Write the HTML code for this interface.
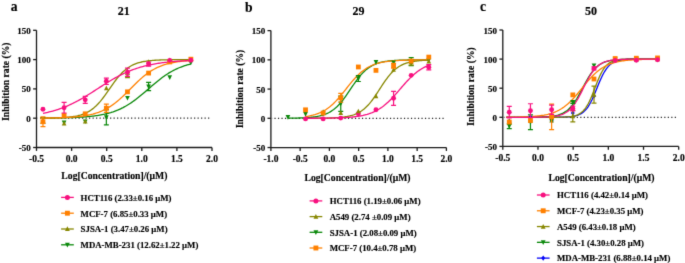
<!DOCTYPE html>
<html><head><meta charset="utf-8"><style>
html,body{margin:0;padding:0;background:#fff;}
svg{display:block;will-change:transform;}
text{font-family:"Liberation Serif", serif;font-weight:bold;fill:#000;stroke:#000;stroke-width:0.15px;}
</style></head><body>
<svg width="685" height="263" viewBox="0 0 685 263">
<defs><filter id="soft" x="0" y="0" width="685" height="263" filterUnits="userSpaceOnUse" color-interpolation-filters="sRGB"><feConvolveMatrix order="3" kernelMatrix="0.0113 0.0838 0.0113 0.0838 0.6193 0.0838 0.0113 0.0838 0.0113" edgeMode="duplicate"/></filter></defs>
<g filter="url(#soft)">
<rect width="685" height="263" fill="#fff"/>
<line x1="209.25" y1="118.20" x2="37.50" y2="118.20" stroke="#222" stroke-width="1.25" stroke-dasharray="1.2 2.3"/>
<polyline points="42.96,118.09 44.19,118.08 45.42,118.07 46.66,118.06 47.89,118.05 49.12,118.04 50.35,118.03 51.59,118.01 52.82,118.00 54.05,117.99 55.28,117.97 56.52,117.95 57.75,117.93 58.98,117.91 60.21,117.89 61.45,117.87 62.68,117.84 63.91,117.82 65.15,117.79 66.38,117.76 67.61,117.72 68.84,117.69 70.08,117.65 71.31,117.61 72.54,117.56 73.77,117.51 75.01,117.46 76.24,117.41 77.47,117.35 78.70,117.28 79.94,117.21 81.17,117.14 82.40,117.06 83.63,116.98 84.87,116.89 86.10,116.79 87.33,116.69 88.56,116.57 89.80,116.45 91.03,116.33 92.26,116.19 93.49,116.04 94.73,115.88 95.96,115.72 97.19,115.54 98.43,115.34 99.66,115.14 100.89,114.92 102.12,114.68 103.36,114.43 104.59,114.17 105.82,113.88 107.05,113.58 108.29,113.26 109.52,112.92 110.75,112.56 111.98,112.17 113.22,111.77 114.45,111.34 115.68,110.88 116.91,110.40 118.15,109.89 119.38,109.35 120.61,108.79 121.84,108.20 123.08,107.58 124.31,106.92 125.54,106.24 126.77,105.53 128.01,104.79 129.24,104.02 130.47,103.22 131.71,102.39 132.94,101.53 134.17,100.64 135.40,99.73 136.64,98.79 137.87,97.83 139.10,96.84 140.33,95.84 141.57,94.82 142.80,93.79 144.03,92.74 145.26,91.68 146.50,90.61 147.73,89.54 148.96,88.47 150.19,87.40 151.43,86.33 152.66,85.27 153.89,84.22 155.12,83.19 156.36,82.16 157.59,81.16 158.82,80.17 160.05,79.20 161.29,78.26 162.52,77.34 163.75,76.45 164.99,75.59 166.22,74.75 167.45,73.94 168.68,73.16 169.92,72.42 171.15,71.70 172.38,71.01 173.61,70.35 174.85,69.73 176.08,69.13 177.31,68.56 178.54,68.02 179.78,67.50 181.01,67.02 182.24,66.55 183.47,66.12 184.71,65.71 185.94,65.32 187.17,64.95 188.40,64.61 189.64,64.28 190.87,63.97" fill="none" stroke="#0A880A" stroke-width="1.3"/>
<polyline points="42.96,118.12 44.19,118.11 45.42,118.09 46.66,118.08 47.89,118.06 49.12,118.05 50.35,118.03 51.59,118.00 52.82,117.98 54.05,117.95 55.28,117.92 56.52,117.88 57.75,117.84 58.98,117.80 60.21,117.75 61.45,117.69 62.68,117.62 63.91,117.55 65.15,117.46 66.38,117.37 67.61,117.27 68.84,117.15 70.08,117.01 71.31,116.87 72.54,116.70 73.77,116.51 75.01,116.30 76.24,116.06 77.47,115.80 78.70,115.50 79.94,115.17 81.17,114.80 82.40,114.40 83.63,113.94 84.87,113.44 86.10,112.88 87.33,112.26 88.56,111.58 89.80,110.83 91.03,110.02 92.26,109.13 93.49,108.16 94.73,107.11 95.96,105.97 97.19,104.76 98.43,103.46 99.66,102.08 100.89,100.63 102.12,99.10 103.36,97.51 104.59,95.86 105.82,94.16 107.05,92.42 108.29,90.66 109.52,88.88 110.75,87.11 111.98,85.35 113.22,83.61 114.45,81.91 115.68,80.26 116.91,78.67 118.15,77.15 119.38,75.69 120.61,74.32 121.84,73.02 123.08,71.81 124.31,70.68 125.54,69.63 126.77,68.66 128.01,67.77 129.24,66.95 130.47,66.21 131.71,65.53 132.94,64.91 134.17,64.36 135.40,63.85 136.64,63.40 137.87,62.99 139.10,62.62 140.33,62.29 141.57,62.00 142.80,61.73 144.03,61.50 145.26,61.29 146.50,61.10 147.73,60.93 148.96,60.78 150.19,60.65 151.43,60.53 152.66,60.43 153.89,60.33 155.12,60.25 156.36,60.18 157.59,60.11 158.82,60.05 160.05,60.00 161.29,59.96 162.52,59.92 163.75,59.88 164.99,59.85 166.22,59.82 167.45,59.80 168.68,59.77 169.92,59.75 171.15,59.74 172.38,59.72 173.61,59.71 174.85,59.69 176.08,59.68 177.31,59.67 178.54,59.67 179.78,59.66 181.01,59.65 182.24,59.65 183.47,59.64 184.71,59.64 185.94,59.63 187.17,59.63 188.40,59.62 189.64,59.62 190.87,59.62" fill="none" stroke="#878700" stroke-width="1.3"/>
<polyline points="40.01,118.08 41.27,118.07 42.52,118.06 43.78,118.05 45.04,118.04 46.30,118.02 47.55,118.01 48.81,117.99 50.07,117.97 51.32,117.95 52.58,117.93 53.84,117.90 55.10,117.87 56.35,117.84 57.61,117.81 58.87,117.78 60.12,117.74 61.38,117.70 62.64,117.65 63.90,117.60 65.15,117.55 66.41,117.49 67.67,117.43 68.92,117.36 70.18,117.29 71.44,117.20 72.70,117.12 73.95,117.02 75.21,116.92 76.47,116.80 77.72,116.68 78.98,116.55 80.24,116.40 81.50,116.24 82.75,116.07 84.01,115.89 85.27,115.69 86.53,115.47 87.78,115.24 89.04,114.98 90.30,114.71 91.55,114.41 92.81,114.10 94.07,113.75 95.33,113.38 96.58,112.99 97.84,112.56 99.10,112.10 100.35,111.61 101.61,111.09 102.87,110.53 104.13,109.94 105.38,109.30 106.64,108.63 107.90,107.92 109.15,107.16 110.41,106.36 111.67,105.52 112.93,104.64 114.18,103.72 115.44,102.76 116.70,101.75 117.95,100.71 119.21,99.63 120.47,98.51 121.73,97.36 122.98,96.19 124.24,94.98 125.50,93.76 126.75,92.52 128.01,91.26 129.27,90.00 130.53,88.73 131.78,87.46 133.04,86.20 134.30,84.95 135.55,83.71 136.81,82.49 138.07,81.30 139.33,80.13 140.58,78.99 141.84,77.88 143.10,76.81 144.35,75.78 145.61,74.78 146.87,73.83 148.13,72.92 149.38,72.05 150.64,71.22 151.90,70.43 153.15,69.69 154.41,68.99 155.67,68.32 156.93,67.70 158.18,67.11 159.44,66.57 160.70,66.05 161.96,65.57 163.21,65.12 164.47,64.70 165.73,64.31 166.98,63.95 168.24,63.62 169.50,63.30 170.76,63.01 172.01,62.75 173.27,62.50 174.53,62.27 175.78,62.06 177.04,61.86 178.30,61.68 179.56,61.51 180.81,61.36 182.07,61.22 183.33,61.09 184.58,60.97 185.84,60.86 187.10,60.75 188.36,60.66 189.61,60.57 190.87,60.49" fill="none" stroke="#FF8000" stroke-width="1.3"/>
<polyline points="42.96,113.33 44.19,113.09 45.42,112.83 46.66,112.56 47.89,112.27 49.12,111.97 50.35,111.67 51.59,111.34 52.82,111.01 54.05,110.66 55.28,110.29 56.52,109.91 57.75,109.52 58.98,109.11 60.21,108.68 61.45,108.24 62.68,107.78 63.91,107.31 65.15,106.81 66.38,106.31 67.61,105.78 68.84,105.24 70.08,104.68 71.31,104.11 72.54,103.52 73.77,102.91 75.01,102.29 76.24,101.65 77.47,101.00 78.70,100.33 79.94,99.65 81.17,98.95 82.40,98.24 83.63,97.52 84.87,96.78 86.10,96.04 87.33,95.28 88.56,94.52 89.80,93.75 91.03,92.97 92.26,92.19 93.49,91.40 94.73,90.60 95.96,89.81 97.19,89.01 98.43,88.21 99.66,87.42 100.89,86.62 102.12,85.83 103.36,85.05 104.59,84.27 105.82,83.49 107.05,82.73 108.29,81.97 109.52,81.22 110.75,80.48 111.98,79.76 113.22,79.05 114.45,78.35 115.68,77.66 116.91,76.99 118.15,76.33 119.38,75.68 120.61,75.06 121.84,74.45 123.08,73.85 124.31,73.27 125.54,72.71 126.77,72.16 128.01,71.64 129.24,71.12 130.47,70.63 131.71,70.15 132.94,69.69 134.17,69.24 135.40,68.81 136.64,68.40 137.87,68.00 139.10,67.61 140.33,67.24 141.57,66.89 142.80,66.55 144.03,66.22 145.26,65.91 146.50,65.61 147.73,65.32 148.96,65.05 150.19,64.78 151.43,64.53 152.66,64.29 153.89,64.06 155.12,63.84 156.36,63.63 157.59,63.43 158.82,63.24 160.05,63.06 161.29,62.89 162.52,62.72 163.75,62.57 164.99,62.42 166.22,62.28 167.45,62.14 168.68,62.01 169.92,61.89 171.15,61.77 172.38,61.66 173.61,61.56 174.85,61.45 176.08,61.36 177.31,61.27 178.54,61.18 179.78,61.10 181.01,61.02 182.24,60.95 183.47,60.88 184.71,60.81 185.94,60.75 187.17,60.69 188.40,60.63 189.64,60.58 190.87,60.53" fill="none" stroke="#F8107F" stroke-width="1.3"/>
<path d="M64.09,125.19L66.43,120.52L61.75,120.52Z" fill="#0A880A"/>
<path d="M85.22,124.08L87.56,119.40L82.88,119.40Z" fill="#0A880A"/>
<path d="M106.35,109.70V124.94M103.85,109.70h5M103.85,124.94h5" stroke="#0A880A" stroke-width="1.2" fill="none"/>
<path d="M106.35,119.92L108.69,115.24L104.01,115.24Z" fill="#0A880A"/>
<path d="M127.48,100.58L129.82,95.90L125.14,95.90Z" fill="#0A880A"/>
<path d="M148.61,82.45V90.66M146.11,82.45h5M146.11,90.66h5" stroke="#0A880A" stroke-width="1.2" fill="none"/>
<path d="M148.61,89.16L150.95,84.48L146.27,84.48Z" fill="#0A880A"/>
<path d="M169.74,80.01L172.08,75.33L167.40,75.33Z" fill="#0A880A"/>
<path d="M190.87,65.13L193.21,60.45L188.53,60.45Z" fill="#0A880A"/>
<path d="M42.96,117.61V123.47M40.46,117.61h5M40.46,123.47h5" stroke="#878700" stroke-width="1.2" fill="none"/>
<path d="M42.96,117.94L45.30,122.62L40.62,122.62Z" fill="#878700"/>
<path d="M64.09,120.87L66.43,125.55L61.75,125.55Z" fill="#878700"/>
<path d="M85.22,118.88L87.56,123.56L82.88,123.56Z" fill="#878700"/>
<path d="M106.35,85.48L108.69,90.16L104.01,90.16Z" fill="#878700"/>
<path d="M127.48,74.25V77.77M124.98,74.25h5M124.98,77.77h5" stroke="#878700" stroke-width="1.2" fill="none"/>
<path d="M127.48,73.41L129.82,78.09L125.14,78.09Z" fill="#878700"/>
<path d="M148.61,59.34L150.95,64.02L146.27,64.02Z" fill="#878700"/>
<path d="M169.74,57.59L172.08,62.27L167.40,62.27Z" fill="#878700"/>
<path d="M190.87,57.00L193.21,61.68L188.53,61.68Z" fill="#878700"/>
<path d="M42.96,116.73V126.70M40.46,116.73h5M40.46,126.70h5" stroke="#FF8000" stroke-width="1.2" fill="none"/>
<rect x="40.56" y="119.32" width="4.80" height="4.80" fill="#FF8000"/>
<rect x="61.69" y="113.05" width="4.80" height="4.80" fill="#FF8000"/>
<rect x="82.82" y="111.41" width="4.80" height="4.80" fill="#FF8000"/>
<path d="M106.35,104.14V112.34M103.85,104.14h5M103.85,112.34h5" stroke="#FF8000" stroke-width="1.2" fill="none"/>
<rect x="103.95" y="105.84" width="4.80" height="4.80" fill="#FF8000"/>
<rect x="125.08" y="89.43" width="4.80" height="4.80" fill="#FF8000"/>
<rect x="146.21" y="70.68" width="4.80" height="4.80" fill="#FF8000"/>
<rect x="167.34" y="59.54" width="4.80" height="4.80" fill="#FF8000"/>
<rect x="188.47" y="56.79" width="4.80" height="4.80" fill="#FF8000"/>
<circle cx="42.96" cy="109.23" r="2.45" fill="#F8107F"/>
<path d="M64.09,102.44V112.98M61.59,102.44h5M61.59,112.98h5" stroke="#F8107F" stroke-width="1.2" fill="none"/>
<circle cx="64.09" cy="107.71" r="2.45" fill="#F8107F"/>
<path d="M85.22,96.34V103.37M82.72,96.34h5M82.72,103.37h5" stroke="#F8107F" stroke-width="1.2" fill="none"/>
<circle cx="85.22" cy="99.86" r="2.45" fill="#F8107F"/>
<path d="M106.35,78.06V84.50M103.85,78.06h5M103.85,84.50h5" stroke="#F8107F" stroke-width="1.2" fill="none"/>
<circle cx="106.35" cy="81.28" r="2.45" fill="#F8107F"/>
<path d="M127.48,68.10V76.30M124.98,68.10h5M124.98,76.30h5" stroke="#F8107F" stroke-width="1.2" fill="none"/>
<circle cx="127.48" cy="72.20" r="2.45" fill="#F8107F"/>
<path d="M148.61,62.00V66.10M146.11,62.00h5M146.11,66.10h5" stroke="#F8107F" stroke-width="1.2" fill="none"/>
<circle cx="148.61" cy="64.05" r="2.45" fill="#F8107F"/>
<circle cx="169.74" cy="60.36" r="2.45" fill="#F8107F"/>
<circle cx="190.87" cy="60.19" r="2.45" fill="#F8107F"/>
<path d="M36.50,30.30V147.50H212.00" stroke="#1a1a1a" stroke-width="1.3" fill="none"/>
<line x1="33.10" y1="30.30" x2="36.50" y2="30.30" stroke="#1a1a1a" stroke-width="1.3"/>
<text x="30.80" y="33.85" text-anchor="end" font-size="9.0">150</text>
<line x1="33.10" y1="59.60" x2="36.50" y2="59.60" stroke="#1a1a1a" stroke-width="1.3"/>
<text x="30.80" y="63.15" text-anchor="end" font-size="9.0">100</text>
<line x1="33.10" y1="88.90" x2="36.50" y2="88.90" stroke="#1a1a1a" stroke-width="1.3"/>
<text x="30.80" y="92.45" text-anchor="end" font-size="9.0">50</text>
<line x1="33.10" y1="118.20" x2="36.50" y2="118.20" stroke="#1a1a1a" stroke-width="1.3"/>
<text x="30.80" y="121.75" text-anchor="end" font-size="9.0">0</text>
<line x1="33.10" y1="147.50" x2="36.50" y2="147.50" stroke="#1a1a1a" stroke-width="1.3"/>
<text x="30.80" y="151.05" text-anchor="end" font-size="9.0">-50</text>
<line x1="36.50" y1="147.50" x2="36.50" y2="150.90" stroke="#1a1a1a" stroke-width="1.3"/>
<text x="36.50" y="161.70" text-anchor="middle" font-size="9.5">-0.5</text>
<line x1="71.60" y1="147.50" x2="71.60" y2="150.90" stroke="#1a1a1a" stroke-width="1.3"/>
<text x="71.60" y="161.70" text-anchor="middle" font-size="9.5">0.0</text>
<line x1="106.70" y1="147.50" x2="106.70" y2="150.90" stroke="#1a1a1a" stroke-width="1.3"/>
<text x="106.70" y="161.70" text-anchor="middle" font-size="9.5">0.5</text>
<line x1="141.80" y1="147.50" x2="141.80" y2="150.90" stroke="#1a1a1a" stroke-width="1.3"/>
<text x="141.80" y="161.70" text-anchor="middle" font-size="9.5">1.0</text>
<line x1="176.90" y1="147.50" x2="176.90" y2="150.90" stroke="#1a1a1a" stroke-width="1.3"/>
<text x="176.90" y="161.70" text-anchor="middle" font-size="9.5">1.5</text>
<line x1="212.00" y1="147.50" x2="212.00" y2="150.90" stroke="#1a1a1a" stroke-width="1.3"/>
<text x="212.00" y="161.70" text-anchor="middle" font-size="9.5">2.0</text>
<text x="10.8" y="11.4" font-size="13.6">a</text>
<text x="123.7" y="14.8" text-anchor="middle" font-size="12">21</text>
<text transform="translate(8.899999999999999,81.7) rotate(-90)" text-anchor="middle" font-size="9.6">Inhibition rate (%)</text>
<text x="114.4" y="178.7" text-anchor="middle" font-size="9.7">Log[Concentration]/(μM)</text>
<line x1="61.10" y1="197.40" x2="73.80" y2="197.40" stroke="#F8107F" stroke-width="1.3"/>
<circle cx="67.40" cy="197.40" r="2.50" fill="#F8107F"/>
<text transform="translate(80.6,200.70) scale(0.952,1)" font-size="9.25">HCT116 (2.33±0.16 μM)</text>
<line x1="61.10" y1="213.20" x2="73.80" y2="213.20" stroke="#FF8000" stroke-width="1.3"/>
<rect x="64.95" y="210.75" width="4.90" height="4.90" fill="#FF8000"/>
<text transform="translate(80.6,216.50) scale(0.952,1)" font-size="9.25">MCF-7 (6.85±0.33 μM)</text>
<line x1="61.10" y1="229.00" x2="73.80" y2="229.00" stroke="#878700" stroke-width="1.3"/>
<path d="M67.40,226.35L69.79,231.12L65.01,231.12Z" fill="#878700"/>
<text transform="translate(80.6,232.30) scale(0.952,1)" font-size="9.25">SJSA-1 (3.47±0.26 μM)</text>
<line x1="61.10" y1="244.80" x2="73.80" y2="244.80" stroke="#0A880A" stroke-width="1.3"/>
<path d="M67.40,247.45L69.79,242.68L65.01,242.68Z" fill="#0A880A"/>
<text transform="translate(80.6,248.10) scale(0.952,1)" font-size="9.25">MDA-MB-231 (12.62±1.22 μM)</text>
<line x1="443.65" y1="118.30" x2="271.90" y2="118.30" stroke="#222" stroke-width="1.25" stroke-dasharray="1.2 2.3"/>
<polyline points="305.53,118.28 306.56,118.27 307.59,118.27 308.61,118.27 309.64,118.26 310.67,118.26 311.69,118.26 312.72,118.25 313.75,118.25 314.78,118.24 315.80,118.23 316.83,118.23 317.86,118.22 318.89,118.21 319.91,118.20 320.94,118.18 321.97,118.17 322.99,118.16 324.02,118.14 325.05,118.12 326.08,118.10 327.10,118.08 328.13,118.05 329.16,118.02 330.18,117.99 331.21,117.96 332.24,117.92 333.27,117.88 334.29,117.83 335.32,117.77 336.35,117.71 337.37,117.65 338.40,117.57 339.43,117.49 340.46,117.40 341.48,117.30 342.51,117.18 343.54,117.06 344.56,116.92 345.59,116.76 346.62,116.59 347.65,116.40 348.67,116.19 349.70,115.96 350.73,115.70 351.75,115.42 352.78,115.11 353.81,114.76 354.84,114.38 355.86,113.97 356.89,113.51 357.92,113.01 358.94,112.46 359.97,111.87 361.00,111.22 362.03,110.51 363.05,109.75 364.08,108.92 365.11,108.03 366.13,107.08 367.16,106.06 368.19,104.98 369.22,103.82 370.24,102.61 371.27,101.33 372.30,99.99 373.32,98.59 374.35,97.15 375.38,95.66 376.41,94.14 377.43,92.58 378.46,91.01 379.49,89.42 380.51,87.83 381.54,86.25 382.57,84.68 383.60,83.15 384.62,81.64 385.65,80.18 386.68,78.76 387.70,77.39 388.73,76.09 389.76,74.84 390.79,73.66 391.81,72.55 392.84,71.50 393.87,70.52 394.90,69.61 395.92,68.75 396.95,67.96 397.98,67.23 399.00,66.56 400.03,65.94 401.06,65.37 402.09,64.85 403.11,64.38 404.14,63.94 405.17,63.55 406.19,63.19 407.22,62.86 408.25,62.57 409.28,62.30 410.30,62.05 411.33,61.84 412.36,61.64 413.38,61.46 414.41,61.30 415.44,61.15 416.47,61.02 417.49,60.90 418.52,60.79 419.55,60.70 420.57,60.61 421.60,60.53 422.63,60.46 423.66,60.40 424.68,60.35 425.71,60.29 426.74,60.25 427.76,60.21 428.79,60.17" fill="none" stroke="#878700" stroke-width="1.3"/>
<polyline points="287.92,118.20 289.10,118.19 290.27,118.18 291.45,118.16 292.62,118.15 293.79,118.13 294.97,118.10 296.14,118.08 297.31,118.05 298.49,118.02 299.66,117.98 300.84,117.94 302.01,117.90 303.18,117.85 304.36,117.79 305.53,117.72 306.71,117.65 307.88,117.57 309.05,117.48 310.23,117.37 311.40,117.26 312.58,117.13 313.75,116.98 314.92,116.82 316.10,116.63 317.27,116.43 318.44,116.20 319.62,115.94 320.79,115.65 321.97,115.33 323.14,114.97 324.31,114.58 325.49,114.13 326.66,113.65 327.84,113.10 329.01,112.51 330.18,111.85 331.36,111.13 332.53,110.34 333.71,109.47 334.88,108.53 336.05,107.52 337.23,106.42 338.40,105.24 339.58,103.98 340.75,102.65 341.92,101.23 343.10,99.74 344.27,98.19 345.44,96.58 346.62,94.91 347.79,93.21 348.97,91.48 350.14,89.73 351.31,87.97 352.49,86.23 353.66,84.50 354.84,82.81 356.01,81.15 357.18,79.56 358.36,78.02 359.53,76.55 360.71,75.15 361.88,73.84 363.05,72.60 364.23,71.44 365.40,70.37 366.57,69.37 367.75,68.45 368.92,67.61 370.10,66.83 371.27,66.13 372.44,65.48 373.62,64.90 374.79,64.37 375.97,63.90 377.14,63.47 378.31,63.08 379.49,62.73 380.66,62.42 381.84,62.14 383.01,61.89 384.18,61.67 385.36,61.47 386.53,61.29 387.70,61.13 388.88,60.99 390.05,60.86 391.23,60.75 392.40,60.65 393.57,60.56 394.75,60.48 395.92,60.41 397.10,60.35 398.27,60.29 399.44,60.24 400.62,60.20 401.79,60.16 402.97,60.12 404.14,60.09 405.31,60.07 406.49,60.04 407.66,60.02 408.84,60.00 410.01,59.98 411.18,59.97 412.36,59.95 413.53,59.94 414.70,59.93 415.88,59.92 417.05,59.91 418.23,59.91 419.40,59.90 420.57,59.90 421.75,59.89 422.92,59.89 424.10,59.88 425.27,59.88 426.44,59.87 427.62,59.87 428.79,59.87" fill="none" stroke="#0A880A" stroke-width="1.3"/>
<polyline points="305.53,116.59 306.56,116.43 307.59,116.27 308.61,116.08 309.64,115.89 310.67,115.67 311.69,115.44 312.72,115.19 313.75,114.91 314.78,114.62 315.80,114.30 316.83,113.96 317.86,113.58 318.89,113.18 319.91,112.75 320.94,112.29 321.97,111.79 322.99,111.26 324.02,110.69 325.05,110.08 326.08,109.43 327.10,108.74 328.13,108.01 329.16,107.24 330.18,106.42 331.21,105.55 332.24,104.64 333.27,103.69 334.29,102.69 335.32,101.66 336.35,100.58 337.37,99.46 338.40,98.31 339.43,97.12 340.46,95.91 341.48,94.66 342.51,93.40 343.54,92.12 344.56,90.83 345.59,89.54 346.62,88.24 347.65,86.94 348.67,85.65 349.70,84.38 350.73,83.12 351.75,81.89 352.78,80.68 353.81,79.50 354.84,78.36 355.86,77.25 356.89,76.19 357.92,75.16 358.94,74.18 359.97,73.24 361.00,72.34 362.03,71.49 363.05,70.68 364.08,69.92 365.11,69.20 366.13,68.52 367.16,67.89 368.19,67.29 369.22,66.73 370.24,66.21 371.27,65.72 372.30,65.27 373.32,64.85 374.35,64.46 375.38,64.09 376.41,63.75 377.43,63.44 378.46,63.15 379.49,62.89 380.51,62.64 381.54,62.41 382.57,62.21 383.60,62.01 384.62,61.83 385.65,61.67 386.68,61.52 387.70,61.38 388.73,61.25 389.76,61.14 390.79,61.03 391.81,60.93 392.84,60.84 393.87,60.76 394.90,60.68 395.92,60.61 396.95,60.55 397.98,60.49 399.00,60.44 400.03,60.39 401.06,60.34 402.09,60.30 403.11,60.26 404.14,60.23 405.17,60.19 406.19,60.17 407.22,60.14 408.25,60.11 409.28,60.09 410.30,60.07 411.33,60.05 412.36,60.04 413.38,60.02 414.41,60.01 415.44,59.99 416.47,59.98 417.49,59.97 418.52,59.96 419.55,59.95 420.57,59.94 421.60,59.93 422.63,59.93 423.66,59.92 424.68,59.91 425.71,59.91 426.74,59.90 427.76,59.90 428.79,59.89" fill="none" stroke="#FF8000" stroke-width="1.3"/>
<polyline points="305.53,118.27 306.56,118.27 307.59,118.26 308.61,118.26 309.64,118.26 310.67,118.25 311.69,118.25 312.72,118.24 313.75,118.24 314.78,118.23 315.80,118.23 316.83,118.22 317.86,118.22 318.89,118.21 319.91,118.20 320.94,118.19 321.97,118.18 322.99,118.17 324.02,118.16 325.05,118.15 326.08,118.14 327.10,118.12 328.13,118.11 329.16,118.09 330.18,118.08 331.21,118.06 332.24,118.04 333.27,118.01 334.29,117.99 335.32,117.96 336.35,117.94 337.37,117.90 338.40,117.87 339.43,117.84 340.46,117.80 341.48,117.75 342.51,117.71 343.54,117.66 344.56,117.60 345.59,117.54 346.62,117.48 347.65,117.41 348.67,117.34 349.70,117.26 350.73,117.17 351.75,117.08 352.78,116.98 353.81,116.87 354.84,116.75 355.86,116.62 356.89,116.48 357.92,116.33 358.94,116.17 359.97,115.99 361.00,115.81 362.03,115.60 363.05,115.39 364.08,115.15 365.11,114.90 366.13,114.63 367.16,114.34 368.19,114.02 369.22,113.69 370.24,113.33 371.27,112.95 372.30,112.54 373.32,112.10 374.35,111.63 375.38,111.13 376.41,110.60 377.43,110.04 378.46,109.44 379.49,108.81 380.51,108.14 381.54,107.44 382.57,106.70 383.60,105.92 384.62,105.11 385.65,104.25 386.68,103.36 387.70,102.44 388.73,101.48 389.76,100.48 390.79,99.45 391.81,98.40 392.84,97.31 393.87,96.20 394.90,95.07 395.92,93.91 396.95,92.75 397.98,91.57 399.00,90.38 400.03,89.19 401.06,87.99 402.09,86.80 403.11,85.62 404.14,84.45 405.17,83.30 406.19,82.16 407.22,81.04 408.25,79.95 409.28,78.89 410.30,77.86 411.33,76.86 412.36,75.89 413.38,74.96 414.41,74.06 415.44,73.20 416.47,72.38 417.49,71.59 418.52,70.84 419.55,70.13 420.57,69.46 421.60,68.82 422.63,68.22 423.66,67.65 424.68,67.11 425.71,66.61 426.74,66.14 427.76,65.69 428.79,65.28" fill="none" stroke="#F8107F" stroke-width="1.3"/>
<path d="M287.92,119.73L290.26,115.05L285.58,115.05Z" fill="#0A880A"/>
<path d="M305.53,116.63L307.87,111.95L303.19,111.95Z" fill="#0A880A"/>
<path d="M323.14,116.22L325.48,111.54L320.80,111.54Z" fill="#0A880A"/>
<path d="M340.75,96.09V111.29M338.25,96.09h5M338.25,111.29h5" stroke="#0A880A" stroke-width="1.2" fill="none"/>
<path d="M340.75,106.29L343.09,101.61L338.41,101.61Z" fill="#0A880A"/>
<path d="M358.36,75.63V81.48M355.86,75.63h5M355.86,81.48h5" stroke="#0A880A" stroke-width="1.2" fill="none"/>
<path d="M358.36,81.15L360.70,76.47L356.02,76.47Z" fill="#0A880A"/>
<path d="M375.97,64.79L378.31,60.11L373.63,60.11Z" fill="#0A880A"/>
<path d="M393.57,65.08L395.91,60.40L391.23,60.40Z" fill="#0A880A"/>
<path d="M411.18,57.51V65.69M408.68,57.51h5M408.68,65.69h5" stroke="#0A880A" stroke-width="1.2" fill="none"/>
<path d="M411.18,64.20L413.52,59.52L408.84,59.52Z" fill="#0A880A"/>
<path d="M428.79,62.74L431.13,58.06L426.45,58.06Z" fill="#0A880A"/>
<circle cx="305.53" cy="118.88" r="2.45" fill="#F8107F"/>
<circle cx="323.14" cy="118.88" r="2.45" fill="#F8107F"/>
<circle cx="340.75" cy="118.12" r="2.45" fill="#F8107F"/>
<circle cx="358.36" cy="113.80" r="2.45" fill="#F8107F"/>
<circle cx="375.97" cy="109.77" r="2.45" fill="#F8107F"/>
<path d="M393.57,91.30V105.32M391.07,91.30h5M391.07,105.32h5" stroke="#F8107F" stroke-width="1.2" fill="none"/>
<circle cx="393.57" cy="98.31" r="2.45" fill="#F8107F"/>
<circle cx="411.18" cy="75.34" r="2.45" fill="#F8107F"/>
<path d="M428.79,64.53V69.79M426.29,64.53h5M426.29,69.79h5" stroke="#F8107F" stroke-width="1.2" fill="none"/>
<circle cx="428.79" cy="67.16" r="2.45" fill="#F8107F"/>
<path d="M323.14,109.27L325.48,113.95L320.80,113.95Z" fill="#878700"/>
<path d="M340.75,110.21L343.09,114.89L338.41,114.89Z" fill="#878700"/>
<path d="M358.36,108.69L360.70,113.37L356.02,113.37Z" fill="#878700"/>
<path d="M375.97,93.49L378.31,98.17L373.63,98.17Z" fill="#878700"/>
<path d="M393.57,67.19L395.91,71.87L391.23,71.87Z" fill="#878700"/>
<path d="M411.18,59.27V65.11M408.68,59.27h5M408.68,65.11h5" stroke="#878700" stroke-width="1.2" fill="none"/>
<path d="M411.18,59.59L413.52,64.27L408.84,64.27Z" fill="#878700"/>
<path d="M428.79,58.71L431.13,63.39L426.45,63.39Z" fill="#878700"/>
<rect x="303.13" y="107.42" width="4.80" height="4.80" fill="#FF8000"/>
<rect x="320.74" y="110.64" width="4.80" height="4.80" fill="#FF8000"/>
<path d="M340.75,93.46V102.23M338.25,93.46h5M338.25,102.23h5" stroke="#FF8000" stroke-width="1.2" fill="none"/>
<rect x="338.35" y="95.44" width="4.80" height="4.80" fill="#FF8000"/>
<rect x="355.96" y="64.58" width="4.80" height="4.80" fill="#FF8000"/>
<rect x="373.57" y="67.97" width="4.80" height="4.80" fill="#FF8000"/>
<path d="M393.57,63.36V68.03M391.07,63.36h5M391.07,68.03h5" stroke="#FF8000" stroke-width="1.2" fill="none"/>
<rect x="391.17" y="63.29" width="4.80" height="4.80" fill="#FF8000"/>
<rect x="408.78" y="58.62" width="4.80" height="4.80" fill="#FF8000"/>
<rect x="426.39" y="54.70" width="4.80" height="4.80" fill="#FF8000"/>
<path d="M270.90,30.62V147.53H446.40" stroke="#1a1a1a" stroke-width="1.3" fill="none"/>
<line x1="267.50" y1="30.62" x2="270.90" y2="30.62" stroke="#1a1a1a" stroke-width="1.3"/>
<text x="265.20" y="34.17" text-anchor="end" font-size="9.0">150</text>
<line x1="267.50" y1="59.85" x2="270.90" y2="59.85" stroke="#1a1a1a" stroke-width="1.3"/>
<text x="265.20" y="63.40" text-anchor="end" font-size="9.0">100</text>
<line x1="267.50" y1="89.07" x2="270.90" y2="89.07" stroke="#1a1a1a" stroke-width="1.3"/>
<text x="265.20" y="92.62" text-anchor="end" font-size="9.0">50</text>
<line x1="267.50" y1="118.30" x2="270.90" y2="118.30" stroke="#1a1a1a" stroke-width="1.3"/>
<text x="265.20" y="121.85" text-anchor="end" font-size="9.0">0</text>
<line x1="267.50" y1="147.53" x2="270.90" y2="147.53" stroke="#1a1a1a" stroke-width="1.3"/>
<text x="265.20" y="151.08" text-anchor="end" font-size="9.0">-50</text>
<line x1="270.90" y1="147.53" x2="270.90" y2="150.93" stroke="#1a1a1a" stroke-width="1.3"/>
<text x="270.90" y="161.72" text-anchor="middle" font-size="9.5">-1.0</text>
<line x1="300.15" y1="147.53" x2="300.15" y2="150.93" stroke="#1a1a1a" stroke-width="1.3"/>
<text x="300.15" y="161.72" text-anchor="middle" font-size="9.5">-0.5</text>
<line x1="329.40" y1="147.53" x2="329.40" y2="150.93" stroke="#1a1a1a" stroke-width="1.3"/>
<text x="329.40" y="161.72" text-anchor="middle" font-size="9.5">0.0</text>
<line x1="358.65" y1="147.53" x2="358.65" y2="150.93" stroke="#1a1a1a" stroke-width="1.3"/>
<text x="358.65" y="161.72" text-anchor="middle" font-size="9.5">0.5</text>
<line x1="387.90" y1="147.53" x2="387.90" y2="150.93" stroke="#1a1a1a" stroke-width="1.3"/>
<text x="387.90" y="161.72" text-anchor="middle" font-size="9.5">1.0</text>
<line x1="417.15" y1="147.53" x2="417.15" y2="150.93" stroke="#1a1a1a" stroke-width="1.3"/>
<text x="417.15" y="161.72" text-anchor="middle" font-size="9.5">1.5</text>
<line x1="446.40" y1="147.53" x2="446.40" y2="150.93" stroke="#1a1a1a" stroke-width="1.3"/>
<text x="446.40" y="161.72" text-anchor="middle" font-size="9.5">2.0</text>
<text x="245.1" y="11.8" font-size="13.6">b</text>
<text x="358.4" y="14.8" text-anchor="middle" font-size="12">29</text>
<text transform="translate(243.3,88.95) rotate(-90)" text-anchor="middle" font-size="9.6">Inhibition rate (%)</text>
<text x="357.5" y="181.1" text-anchor="middle" font-size="9.7">Log[Concentration]/(μM)</text>
<line x1="309.60" y1="200.90" x2="322.30" y2="200.90" stroke="#F8107F" stroke-width="1.3"/>
<circle cx="315.90" cy="200.90" r="2.50" fill="#F8107F"/>
<text transform="translate(329.7,204.20) scale(0.952,1)" font-size="9.25">HCT116 (1.19±0.06 μM)</text>
<line x1="309.60" y1="216.60" x2="322.30" y2="216.60" stroke="#878700" stroke-width="1.3"/>
<path d="M315.90,213.95L318.29,218.72L313.51,218.72Z" fill="#878700"/>
<text transform="translate(329.7,219.90) scale(0.952,1)" font-size="9.25">A549 (2.74 ±0.09 μM)</text>
<line x1="309.60" y1="232.30" x2="322.30" y2="232.30" stroke="#0A880A" stroke-width="1.3"/>
<path d="M315.90,234.95L318.29,230.18L313.51,230.18Z" fill="#0A880A"/>
<text transform="translate(329.7,235.60) scale(0.952,1)" font-size="9.25">SJSA-1 (2.08±0.09 μM)</text>
<line x1="309.60" y1="248.00" x2="322.30" y2="248.00" stroke="#FF8000" stroke-width="1.3"/>
<rect x="313.45" y="245.55" width="4.90" height="4.90" fill="#FF8000"/>
<text transform="translate(329.7,251.30) scale(0.952,1)" font-size="9.25">MCF-7 (10.4±0.78 μM)</text>
<line x1="675.95" y1="117.30" x2="503.80" y2="117.30" stroke="#222" stroke-width="1.25" stroke-dasharray="1.2 2.3"/>
<polyline points="506.32,117.30 507.58,117.30 508.84,117.30 510.10,117.30 511.36,117.30 512.62,117.30 513.88,117.30 515.14,117.30 516.40,117.30 517.66,117.30 518.92,117.30 520.18,117.30 521.44,117.30 522.70,117.30 523.96,117.30 525.22,117.30 526.48,117.30 527.74,117.30 529.00,117.30 530.26,117.30 531.52,117.30 532.78,117.30 534.04,117.30 535.30,117.30 536.56,117.30 537.82,117.30 539.08,117.30 540.34,117.30 541.60,117.30 542.86,117.29 544.12,117.29 545.38,117.29 546.64,117.29 547.90,117.29 549.16,117.28 550.42,117.28 551.68,117.27 552.94,117.27 554.20,117.26 555.46,117.25 556.72,117.24 557.98,117.22 559.24,117.20 560.50,117.18 561.76,117.15 563.02,117.12 564.28,117.08 565.54,117.02 566.80,116.96 568.06,116.88 569.32,116.78 570.58,116.65 571.84,116.50 573.10,116.31 574.36,116.08 575.62,115.79 576.88,115.45 578.14,115.02 579.40,114.50 580.66,113.87 581.92,113.11 583.18,112.20 584.44,111.10 585.70,109.81 586.96,108.30 588.22,106.55 589.48,104.54 590.74,102.27 592.00,99.76 593.26,97.03 594.52,94.11 595.78,91.07 597.04,87.96 598.30,84.85 599.56,81.82 600.82,78.93 602.08,76.23 603.34,73.76 604.60,71.53 605.86,69.56 607.12,67.85 608.38,66.37 609.64,65.11 610.90,64.05 612.16,63.16 613.42,62.42 614.68,61.81 615.94,61.31 617.20,60.89 618.46,60.56 619.72,60.28 620.98,60.06 622.24,59.88 623.50,59.73 624.76,59.61 626.02,59.51 627.28,59.43 628.54,59.37 629.80,59.32 631.06,59.27 632.32,59.24 633.58,59.21 634.84,59.19 636.10,59.17 637.36,59.16 638.62,59.15 639.88,59.14 641.14,59.13 642.40,59.13 643.66,59.12 644.92,59.12 646.18,59.11 647.44,59.11 648.70,59.11 649.96,59.11 651.22,59.11 652.48,59.10 653.74,59.10 655.00,59.10 656.26,59.10 657.52,59.10" fill="none" stroke="#0505F8" stroke-width="1.3"/>
<polyline points="506.32,117.30 507.58,117.30 508.84,117.30 510.10,117.30 511.36,117.30 512.62,117.30 513.88,117.30 515.14,117.30 516.40,117.30 517.66,117.30 518.92,117.30 520.18,117.30 521.44,117.30 522.70,117.30 523.96,117.30 525.22,117.30 526.48,117.30 527.74,117.30 529.00,117.30 530.26,117.30 531.52,117.30 532.78,117.30 534.04,117.30 535.30,117.30 536.56,117.30 537.82,117.30 539.08,117.30 540.34,117.30 541.60,117.30 542.86,117.29 544.12,117.29 545.38,117.29 546.64,117.29 547.90,117.29 549.16,117.28 550.42,117.28 551.68,117.28 552.94,117.27 554.20,117.26 555.46,117.25 556.72,117.24 557.98,117.22 559.24,117.20 560.50,117.18 561.76,117.15 563.02,117.11 564.28,117.06 565.54,117.00 566.80,116.93 568.06,116.83 569.32,116.72 570.58,116.57 571.84,116.39 573.10,116.16 574.36,115.87 575.62,115.52 576.88,115.09 578.14,114.55 579.40,113.89 580.66,113.09 581.92,112.11 583.18,110.93 584.44,109.53 585.70,107.87 586.96,105.94 588.22,103.72 589.48,101.22 590.74,98.45 592.00,95.46 593.26,92.29 594.52,89.01 595.78,85.72 597.04,82.49 598.30,79.40 599.56,76.51 600.82,73.88 602.08,71.52 603.34,69.45 604.60,67.65 605.86,66.13 607.12,64.84 608.38,63.77 609.64,62.88 610.90,62.16 612.16,61.56 613.42,61.08 614.68,60.69 615.94,60.37 617.20,60.12 618.46,59.92 619.72,59.75 620.98,59.62 622.24,59.52 623.50,59.43 624.76,59.37 626.02,59.31 627.28,59.27 628.54,59.23 629.80,59.21 631.06,59.19 632.32,59.17 633.58,59.15 634.84,59.14 636.10,59.13 637.36,59.13 638.62,59.12 639.88,59.12 641.14,59.11 642.40,59.11 643.66,59.11 644.92,59.11 646.18,59.11 647.44,59.10 648.70,59.10 649.96,59.10 651.22,59.10 652.48,59.10 653.74,59.10 655.00,59.10 656.26,59.10 657.52,59.10" fill="none" stroke="#878700" stroke-width="1.3"/>
<polyline points="506.32,117.30 507.58,117.30 508.84,117.30 510.10,117.30 511.36,117.29 512.62,117.29 513.88,117.29 515.14,117.29 516.40,117.29 517.66,117.29 518.92,117.29 520.18,117.28 521.44,117.28 522.70,117.28 523.96,117.27 525.22,117.27 526.48,117.26 527.74,117.26 529.00,117.25 530.26,117.24 531.52,117.23 532.78,117.21 534.04,117.20 535.30,117.18 536.56,117.16 537.82,117.13 539.08,117.10 540.34,117.07 541.60,117.03 542.86,116.98 544.12,116.92 545.38,116.85 546.64,116.77 547.90,116.68 549.16,116.57 550.42,116.44 551.68,116.29 552.94,116.11 554.20,115.91 555.46,115.66 556.72,115.38 557.98,115.05 559.24,114.66 560.50,114.21 561.76,113.69 563.02,113.09 564.28,112.40 565.54,111.61 566.80,110.71 568.06,109.68 569.32,108.52 570.58,107.22 571.84,105.77 573.10,104.17 574.36,102.41 575.62,100.51 576.88,98.48 578.14,96.32 579.40,94.06 580.66,91.72 581.92,89.34 583.18,86.94 584.44,84.56 585.70,82.23 586.96,79.97 588.22,77.82 589.48,75.79 590.74,73.89 592.00,72.15 593.26,70.56 594.52,69.11 595.78,67.82 597.04,66.67 598.30,65.64 599.56,64.75 600.82,63.96 602.08,63.27 603.34,62.68 604.60,62.16 605.86,61.72 607.12,61.33 608.38,61.01 609.64,60.72 610.90,60.48 612.16,60.28 613.42,60.10 614.68,59.95 615.94,59.82 617.20,59.71 618.46,59.62 619.72,59.54 620.98,59.48 622.24,59.42 623.50,59.37 624.76,59.33 626.02,59.30 627.28,59.27 628.54,59.24 629.80,59.22 631.06,59.20 632.32,59.19 633.58,59.17 634.84,59.16 636.10,59.15 637.36,59.14 638.62,59.14 639.88,59.13 641.14,59.13 642.40,59.12 643.66,59.12 644.92,59.12 646.18,59.11 647.44,59.11 648.70,59.11 649.96,59.11 651.22,59.11 652.48,59.11 653.74,59.11 655.00,59.10 656.26,59.10 657.52,59.10" fill="none" stroke="#0A880A" stroke-width="1.3"/>
<polyline points="506.32,117.21 507.58,117.20 508.84,117.19 510.10,117.17 511.36,117.16 512.62,117.14 513.88,117.12 515.14,117.10 516.40,117.08 517.66,117.06 518.92,117.03 520.18,117.00 521.44,116.97 522.70,116.93 523.96,116.89 525.22,116.84 526.48,116.79 527.74,116.73 529.00,116.67 530.26,116.60 531.52,116.52 532.78,116.43 534.04,116.34 535.30,116.23 536.56,116.11 537.82,115.98 539.08,115.83 540.34,115.67 541.60,115.49 542.86,115.29 544.12,115.08 545.38,114.83 546.64,114.57 547.90,114.28 549.16,113.95 550.42,113.60 551.68,113.21 552.94,112.78 554.20,112.31 555.46,111.80 556.72,111.25 557.98,110.64 559.24,109.98 560.50,109.27 561.76,108.49 563.02,107.66 564.28,106.77 565.54,105.81 566.80,104.79 568.06,103.71 569.32,102.56 570.58,101.35 571.84,100.08 573.10,98.75 574.36,97.37 575.62,95.94 576.88,94.47 578.14,92.97 579.40,91.44 580.66,89.89 581.92,88.33 583.18,86.77 584.44,85.22 585.70,83.69 586.96,82.18 588.22,80.70 589.48,79.27 590.74,77.88 592.00,76.54 593.26,75.26 594.52,74.04 595.78,72.88 597.04,71.79 598.30,70.75 599.56,69.79 600.82,68.88 602.08,68.04 603.34,67.26 604.60,66.54 605.86,65.87 607.12,65.25 608.38,64.69 609.64,64.17 610.90,63.69 612.16,63.26 613.42,62.86 614.68,62.50 615.94,62.18 617.20,61.88 618.46,61.61 619.72,61.36 620.98,61.14 622.24,60.94 623.50,60.76 624.76,60.59 626.02,60.45 627.28,60.31 628.54,60.19 629.80,60.08 631.06,59.98 632.32,59.90 633.58,59.82 634.84,59.74 636.10,59.68 637.36,59.62 638.62,59.57 639.88,59.52 641.14,59.48 642.40,59.44 643.66,59.41 644.92,59.37 646.18,59.35 647.44,59.32 648.70,59.30 649.96,59.28 651.22,59.26 652.48,59.24 653.74,59.23 655.00,59.22 656.26,59.20 657.52,59.19" fill="none" stroke="#FF8000" stroke-width="1.3"/>
<polyline points="506.32,117.30 507.58,117.30 508.84,117.30 510.10,117.30 511.36,117.30 512.62,117.30 513.88,117.30 515.14,117.30 516.40,117.29 517.66,117.29 518.92,117.29 520.18,117.29 521.44,117.29 522.70,117.29 523.96,117.28 525.22,117.28 526.48,117.28 527.74,117.27 529.00,117.27 530.26,117.26 531.52,117.26 532.78,117.25 534.04,117.24 535.30,117.23 536.56,117.21 537.82,117.20 539.08,117.18 540.34,117.15 541.60,117.13 542.86,117.09 544.12,117.05 545.38,117.01 546.64,116.95 547.90,116.88 549.16,116.80 550.42,116.71 551.68,116.60 552.94,116.47 554.20,116.31 555.46,116.12 556.72,115.90 557.98,115.64 559.24,115.34 560.50,114.98 561.76,114.55 563.02,114.05 564.28,113.47 565.54,112.80 566.80,112.01 568.06,111.11 569.32,110.07 570.58,108.89 571.84,107.54 573.10,106.04 574.36,104.36 575.62,102.51 576.88,100.50 578.14,98.33 579.40,96.02 580.66,93.61 581.92,91.11 583.18,88.57 584.44,86.02 585.70,83.51 586.96,81.07 588.22,78.73 589.48,76.52 590.74,74.46 592.00,72.56 593.26,70.83 594.52,69.27 595.78,67.89 597.04,66.66 598.30,65.58 599.56,64.63 600.82,63.82 602.08,63.11 603.34,62.50 604.60,61.98 605.86,61.54 607.12,61.16 608.38,60.84 609.64,60.57 610.90,60.34 612.16,60.14 613.42,59.98 614.68,59.84 615.94,59.72 617.20,59.62 618.46,59.54 619.72,59.47 620.98,59.41 622.24,59.36 623.50,59.32 624.76,59.28 626.02,59.25 627.28,59.23 628.54,59.21 629.80,59.19 631.06,59.18 632.32,59.16 633.58,59.15 634.84,59.15 636.10,59.14 637.36,59.13 638.62,59.13 639.88,59.12 641.14,59.12 642.40,59.12 643.66,59.11 644.92,59.11 646.18,59.11 647.44,59.11 648.70,59.11 649.96,59.11 651.22,59.10 652.48,59.10 653.74,59.10 655.00,59.10 656.26,59.10 657.52,59.10" fill="none" stroke="#F8107F" stroke-width="1.3"/>
<path d="M509.27,118.77L511.22,121.37L509.27,123.97L507.32,121.37Z" fill="#0505F8"/>
<path d="M530.45,114.41L532.40,117.01L530.45,119.61L528.50,117.01Z" fill="#0505F8"/>
<path d="M551.63,118.19L553.58,120.79L551.63,123.39L549.68,120.79Z" fill="#0505F8"/>
<path d="M572.81,110.39L574.76,112.99L572.81,115.59L570.86,112.99Z" fill="#0505F8"/>
<path d="M593.99,93.40L595.94,96.00L593.99,98.60L592.04,96.00Z" fill="#0505F8"/>
<path d="M615.16,57.08L617.11,59.68L615.16,62.28L613.21,59.68Z" fill="#0505F8"/>
<path d="M636.34,57.08L638.29,59.68L636.34,62.28L634.39,59.68Z" fill="#0505F8"/>
<path d="M657.52,56.50L659.47,59.10L657.52,61.70L655.57,59.10Z" fill="#0505F8"/>
<path d="M509.27,118.19L511.61,122.87L506.93,122.87Z" fill="#878700"/>
<path d="M530.45,118.19L532.79,122.87L528.11,122.87Z" fill="#878700"/>
<path d="M551.63,117.90L553.97,122.58L549.29,122.58Z" fill="#878700"/>
<path d="M572.81,110.32V121.96M570.31,110.32h5M570.31,121.96h5" stroke="#878700" stroke-width="1.2" fill="none"/>
<path d="M572.81,113.54L575.15,118.22L570.47,118.22Z" fill="#878700"/>
<path d="M593.99,86.16V103.04M591.49,86.16h5M591.49,103.04h5" stroke="#878700" stroke-width="1.2" fill="none"/>
<path d="M593.99,92.00L596.33,96.68L591.65,96.68Z" fill="#878700"/>
<path d="M615.16,57.08L617.50,61.76L612.82,61.76Z" fill="#878700"/>
<path d="M636.34,57.08L638.68,61.76L634.00,61.76Z" fill="#878700"/>
<path d="M657.52,56.50L659.86,61.18L655.18,61.18Z" fill="#878700"/>
<path d="M509.27,123.88V128.53M506.77,123.88h5M506.77,128.53h5" stroke="#0A880A" stroke-width="1.2" fill="none"/>
<path d="M509.27,128.80L511.61,124.12L506.93,124.12Z" fill="#0A880A"/>
<path d="M530.45,114.80V129.70M527.95,114.80h5M527.95,129.70h5" stroke="#0A880A" stroke-width="1.2" fill="none"/>
<path d="M530.45,124.85L532.79,120.17L528.11,120.17Z" fill="#0A880A"/>
<path d="M551.63,123.39L553.97,118.71L549.29,118.71Z" fill="#0A880A"/>
<path d="M572.81,101.00V103.33M570.31,101.00h5M570.31,103.33h5" stroke="#0A880A" stroke-width="1.2" fill="none"/>
<path d="M572.81,104.77L575.15,100.09L570.47,100.09Z" fill="#0A880A"/>
<path d="M593.99,68.10L596.33,63.42L591.65,63.42Z" fill="#0A880A"/>
<path d="M615.16,62.28L617.50,57.60L612.82,57.60Z" fill="#0A880A"/>
<path d="M636.34,62.28L638.68,57.60L634.00,57.60Z" fill="#0A880A"/>
<path d="M657.52,61.70L659.86,57.02L655.18,57.02Z" fill="#0A880A"/>
<rect x="506.87" y="119.67" width="4.80" height="4.80" fill="#FF8000"/>
<rect x="528.05" y="118.10" width="4.80" height="4.80" fill="#FF8000"/>
<path d="M551.63,104.03V129.64M549.13,104.03h5M549.13,129.64h5" stroke="#FF8000" stroke-width="1.2" fill="none"/>
<rect x="549.23" y="114.43" width="4.80" height="4.80" fill="#FF8000"/>
<rect x="570.41" y="92.49" width="4.80" height="4.80" fill="#FF8000"/>
<rect x="591.59" y="76.60" width="4.80" height="4.80" fill="#FF8000"/>
<rect x="612.76" y="56.12" width="4.80" height="4.80" fill="#FF8000"/>
<rect x="633.94" y="55.83" width="4.80" height="4.80" fill="#FF8000"/>
<rect x="655.12" y="55.54" width="4.80" height="4.80" fill="#FF8000"/>
<path d="M509.27,106.36V118.00M506.77,106.36h5M506.77,118.00h5" stroke="#F8107F" stroke-width="1.2" fill="none"/>
<circle cx="509.27" cy="112.18" r="2.45" fill="#F8107F"/>
<path d="M530.45,103.74V117.71M527.95,103.74h5M527.95,117.71h5" stroke="#F8107F" stroke-width="1.2" fill="none"/>
<circle cx="530.45" cy="110.72" r="2.45" fill="#F8107F"/>
<path d="M551.63,105.14V114.45M549.13,105.14h5M549.13,114.45h5" stroke="#F8107F" stroke-width="1.2" fill="none"/>
<circle cx="551.63" cy="109.79" r="2.45" fill="#F8107F"/>
<path d="M572.81,106.24V110.90M570.31,106.24h5M570.31,110.90h5" stroke="#F8107F" stroke-width="1.2" fill="none"/>
<circle cx="572.81" cy="108.57" r="2.45" fill="#F8107F"/>
<path d="M593.99,66.96V69.87M591.49,66.96h5M591.49,69.87h5" stroke="#F8107F" stroke-width="1.2" fill="none"/>
<circle cx="593.99" cy="68.41" r="2.45" fill="#F8107F"/>
<circle cx="615.16" cy="60.50" r="2.45" fill="#F8107F"/>
<circle cx="636.34" cy="60.26" r="2.45" fill="#F8107F"/>
<circle cx="657.52" cy="59.68" r="2.45" fill="#F8107F"/>
<path d="M502.80,30.00V146.40H678.70" stroke="#1a1a1a" stroke-width="1.3" fill="none"/>
<line x1="499.40" y1="30.00" x2="502.80" y2="30.00" stroke="#1a1a1a" stroke-width="1.3"/>
<text x="497.10" y="33.55" text-anchor="end" font-size="9.0">150</text>
<line x1="499.40" y1="59.10" x2="502.80" y2="59.10" stroke="#1a1a1a" stroke-width="1.3"/>
<text x="497.10" y="62.65" text-anchor="end" font-size="9.0">100</text>
<line x1="499.40" y1="88.20" x2="502.80" y2="88.20" stroke="#1a1a1a" stroke-width="1.3"/>
<text x="497.10" y="91.75" text-anchor="end" font-size="9.0">50</text>
<line x1="499.40" y1="117.30" x2="502.80" y2="117.30" stroke="#1a1a1a" stroke-width="1.3"/>
<text x="497.10" y="120.85" text-anchor="end" font-size="9.0">0</text>
<line x1="499.40" y1="146.40" x2="502.80" y2="146.40" stroke="#1a1a1a" stroke-width="1.3"/>
<text x="497.10" y="149.95" text-anchor="end" font-size="9.0">-50</text>
<line x1="502.80" y1="146.40" x2="502.80" y2="149.80" stroke="#1a1a1a" stroke-width="1.3"/>
<text x="502.80" y="160.60" text-anchor="middle" font-size="9.5">-0.5</text>
<line x1="537.98" y1="146.40" x2="537.98" y2="149.80" stroke="#1a1a1a" stroke-width="1.3"/>
<text x="537.98" y="160.60" text-anchor="middle" font-size="9.5">0.0</text>
<line x1="573.16" y1="146.40" x2="573.16" y2="149.80" stroke="#1a1a1a" stroke-width="1.3"/>
<text x="573.16" y="160.60" text-anchor="middle" font-size="9.5">0.5</text>
<line x1="608.34" y1="146.40" x2="608.34" y2="149.80" stroke="#1a1a1a" stroke-width="1.3"/>
<text x="608.34" y="160.60" text-anchor="middle" font-size="9.5">1.0</text>
<line x1="643.52" y1="146.40" x2="643.52" y2="149.80" stroke="#1a1a1a" stroke-width="1.3"/>
<text x="643.52" y="160.60" text-anchor="middle" font-size="9.5">1.5</text>
<line x1="678.70" y1="146.40" x2="678.70" y2="149.80" stroke="#1a1a1a" stroke-width="1.3"/>
<text x="678.70" y="160.60" text-anchor="middle" font-size="9.5">2.0</text>
<text x="479.9" y="11.2" font-size="13.6">c</text>
<text x="591" y="14.8" text-anchor="middle" font-size="12">50</text>
<text transform="translate(474.1,86.5) rotate(-90)" text-anchor="middle" font-size="9.6">Inhibition rate (%)</text>
<text x="601.5" y="181.1" text-anchor="middle" font-size="9.7">Log[Concentration]/(μM)</text>
<line x1="536.90" y1="195.00" x2="549.60" y2="195.00" stroke="#F8107F" stroke-width="1.3"/>
<circle cx="543.20" cy="195.00" r="2.50" fill="#F8107F"/>
<text transform="translate(557.0,198.30) scale(0.952,1)" font-size="9.25">HCT116 (4.42±0.14 μM)</text>
<line x1="536.90" y1="210.78" x2="549.60" y2="210.78" stroke="#FF8000" stroke-width="1.3"/>
<rect x="540.75" y="208.33" width="4.90" height="4.90" fill="#FF8000"/>
<text transform="translate(557.0,214.08) scale(0.952,1)" font-size="9.25">MCF-7 (4.23±0.35 μM)</text>
<line x1="536.90" y1="226.56" x2="549.60" y2="226.56" stroke="#878700" stroke-width="1.3"/>
<path d="M543.20,223.91L545.59,228.68L540.81,228.68Z" fill="#878700"/>
<text transform="translate(557.0,229.86) scale(0.952,1)" font-size="9.25">A549 (6.43±0.18 μM)</text>
<line x1="536.90" y1="242.34" x2="549.60" y2="242.34" stroke="#0A880A" stroke-width="1.3"/>
<path d="M543.20,244.99L545.59,240.22L540.81,240.22Z" fill="#0A880A"/>
<text transform="translate(557.0,245.64) scale(0.952,1)" font-size="9.25">SJSA-1 (4.30±0.28 μM)</text>
<line x1="536.90" y1="258.12" x2="549.60" y2="258.12" stroke="#0505F8" stroke-width="1.3"/>
<path d="M543.20,255.47L545.19,258.12L543.20,260.77L541.21,258.12Z" fill="#0505F8"/>
<text transform="translate(557.0,261.42) scale(0.952,1)" font-size="9.25">MDA-MB-231 (6.88±0.14 μM)</text>
</g>
</svg>
</body></html>
